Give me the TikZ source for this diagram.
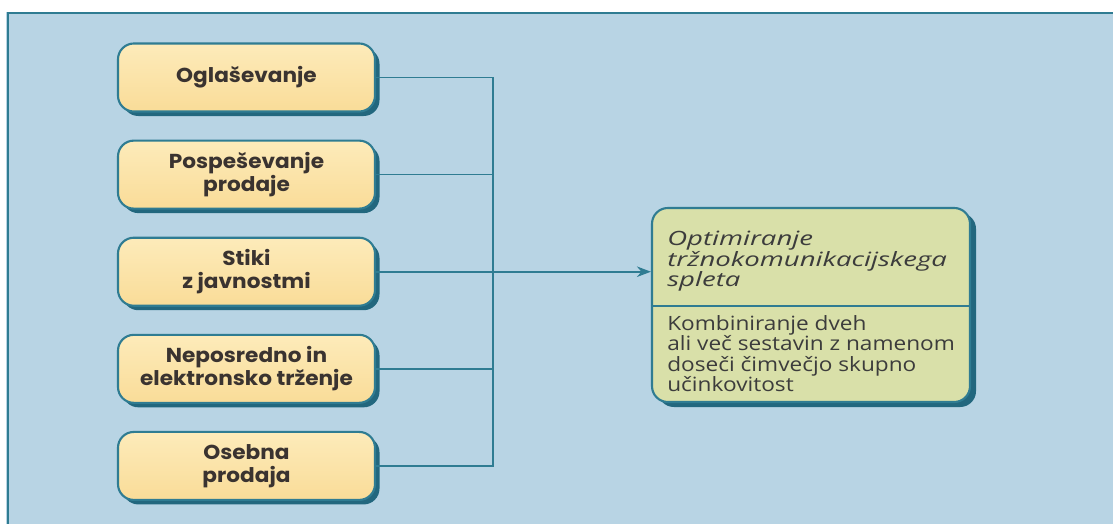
\documentclass[tikz,border=0pt]{standalone}
\usepackage{fontspec}
\usepackage{xcolor}
\usepackage{tikz}
\usetikzlibrary{arrows.meta, positioning, shadows, calc}
\newfontfamily\toolfont{Poppins}[FakeStretch=1.07]
\newfontfamily\titlefont{Open Sans}[FakeStretch=1.4]
\newfontfamily\descfont{Open Sans}[FakeStretch=1.15]
\definecolor{panelBlue}{HTML}{B8D4E4}
\definecolor{frameTeal}{HTML}{2F7C92}
\definecolor{shadowTeal}{HTML}{22677E}
\definecolor{boxTop}{HTML}{FDEBBA}
\definecolor{boxBottom}{HTML}{F9DC98}
\definecolor{mixGreen}{HTML}{D9E0A9}
\definecolor{inkBrown}{HTML}{3A3330}
\definecolor{inkGray}{HTML}{3C3C3C}

\begin{document}
\begin{tikzpicture}[
    toolbox/.style={
        draw=frameTeal, line width=1.2pt, rounded corners=9pt,
        top color=boxTop, bottom color=boxBottom,
        minimum width=5.14cm, minimum height=1.36cm, align=center,
        font=\toolfont\bfseries\fontsize{11.5}{13}\selectfont, text=inkBrown,
        drop shadow={shadow xshift=0.09cm, shadow yshift=-0.09cm,
            fill=shadowTeal, opacity=1}
    },
    mixbox/.style={
        draw=frameTeal, line width=1.2pt, rounded corners=9pt, fill=mixGreen,
        minimum width=6.36cm, minimum height=3.88cm,
        drop shadow={shadow xshift=0.12cm, shadow yshift=-0.1cm,
            fill=shadowTeal, opacity=1}
    },
    mixtext/.style={
        inner sep=0pt, align=left, text=inkGray,
        font=\descfont\fontsize{11.2}{11.6}\selectfont
    },
    link/.style={draw=frameTeal, line width=0.9pt},
]
    \useasboundingbox (0,0) rectangle (22.26,-10.48);
    % panel
    \fill[panelBlue] (0.12,-0.24) rectangle (22.26,-10.48);
    \draw[frameTeal, line width=0.8pt] (22.26,-0.26) -- (0.16,-0.26) -- (0.16,-10.48);

    % tools of the mix
    \node[toolbox] (ogl) at (4.93,-1.55) {Oglaševanje};
    \node[toolbox, below=0.54cm of ogl] (pos) {Pospeševanje\\prodaje};
    \node[toolbox, below=0.54cm of pos] (stk) {Stiki\\z javnostmi};
    \node[toolbox, below=0.54cm of stk] (nep) {Neposredno in\\elektronsko trženje};
    \node[toolbox, below=0.54cm of nep] (osb) {Osebna\\prodaja};

    % result
    \node[mixbox] (opt) at (16.22,-6.10) {};
    \draw[frameTeal, line width=1.2pt] ($(opt.west)+(0,-0.02)$) -- ($(opt.east)+(0,-0.02)$);
    \node[mixtext, font=\titlefont\itshape\fontsize{11.2}{11.6}\selectfont, anchor=north west]
        (optTitle) at ($(opt.north west)+(0.32,-0.48)$)
        {Optimiranje\\tržnokomunikacijskega\\spleta};
    \node[mixtext, anchor=north west] (optDesc) at ($(opt.west)+(0.32,-0.2)$)
        {Kombiniranje dveh\\ali več sestavin z namenom\\doseči čimvečjo skupno\\učinkovitost};

    % connectors
    \coordinate (trunk) at (9.86,0);
    \draw[link] (ogl.east) -- (ogl.east -| trunk) |- (osb.east);
    \foreach \n in {pos, stk, nep}
        \draw[link] (\n.east) -- (\n.east -| trunk);
    \draw[link, -{Stealth[length=8pt, width=6pt]}] (stk.east) -- (stk.east -| opt.west);
\end{tikzpicture}
\end{document}
